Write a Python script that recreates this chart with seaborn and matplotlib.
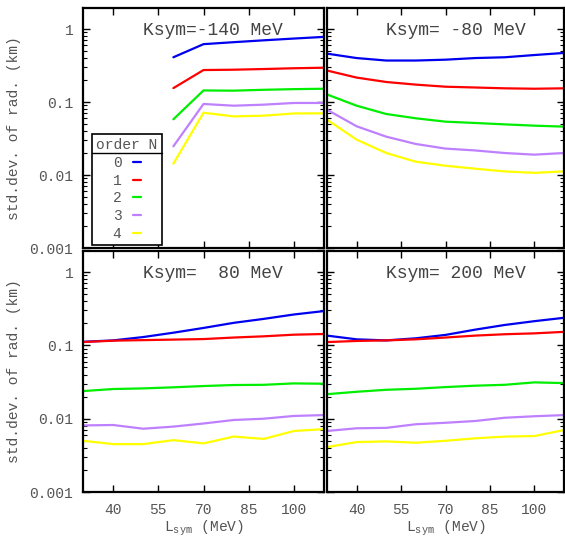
import numpy as np
import pandas as pd
import matplotlib
matplotlib.use("Agg")
import matplotlib.pyplot as plt
from matplotlib.lines import Line2D
import seaborn as sns

# ---- data ----
L_sym = [30, 40, 50, 60, 70, 80, 90, 100, 110]
ksym_labels = ["Ksym=-140 MeV", "Ksym= -80 MeV", "Ksym=  80 MeV", "Ksym= 200 MeV"]
orders = ["0", "1", "2", "3", "4"]
nan = np.nan

# Ksym = -140 MeV (no values below L=60)
k140_o0 = [nan, nan, nan, 0.41, 0.62, 0.66, 0.70, 0.74, 0.78]
k140_o1 = [nan, nan, nan, 0.155, 0.274, 0.277, 0.283, 0.290, 0.295]
k140_o2 = [nan, nan, nan, 0.058, 0.144, 0.143, 0.147, 0.150, 0.152]
k140_o3 = [nan, nan, nan, 0.0247, 0.094, 0.089, 0.092, 0.097, 0.097]
k140_o4 = [nan, nan, nan, 0.0143, 0.0713, 0.0635, 0.065, 0.0697, 0.070]

# Ksym = -80 MeV
k80m_o0 = [0.46, 0.40, 0.37, 0.37, 0.38, 0.40, 0.41, 0.44, 0.47]
k80m_o1 = [0.27, 0.216, 0.188, 0.173, 0.162, 0.158, 0.154, 0.152, 0.154]
k80m_o2 = [0.127, 0.089, 0.0685, 0.0598, 0.0538, 0.0516, 0.0494, 0.0474, 0.046]
k80m_o3 = [0.0785, 0.0465, 0.0335, 0.0266, 0.023, 0.0217, 0.020, 0.019, 0.020]
k80m_o4 = [0.0573, 0.0305, 0.020, 0.0152, 0.0134, 0.0122, 0.0112, 0.0107, 0.0112]

# Ksym = 80 MeV
k80_o0 = [0.112, 0.117, 0.130, 0.149, 0.173, 0.203, 0.230, 0.264, 0.294]
k80_o1 = [0.111, 0.116, 0.118, 0.120, 0.122, 0.128, 0.133, 0.140, 0.143]
k80_o2 = [0.0238, 0.0254, 0.0259, 0.0268, 0.0279, 0.0288, 0.029, 0.0303, 0.030]
k80_o3 = [0.0081, 0.0082, 0.0073, 0.0078, 0.0086, 0.0096, 0.0100, 0.0109, 0.0112]
k80_o4 = [0.0050, 0.0045, 0.0045, 0.0051, 0.0046, 0.0057, 0.0053, 0.0068, 0.0072]

# Ksym = 200 MeV
k200_o0 = [0.136, 0.121, 0.117, 0.125, 0.139, 0.164, 0.190, 0.214, 0.238]
k200_o1 = [0.111, 0.115, 0.117, 0.121, 0.128, 0.136, 0.142, 0.146, 0.153]
k200_o2 = [0.0216, 0.0233, 0.0248, 0.0256, 0.027, 0.0282, 0.029, 0.0313, 0.0306]
k200_o3 = [0.0068, 0.0074, 0.0075, 0.0084, 0.0088, 0.0093, 0.0103, 0.0108, 0.0112]
k200_o4 = [0.0041, 0.0048, 0.0049, 0.0047, 0.0050, 0.0054, 0.0057, 0.0058, 0.0070]

x_ticks = [40, 55, 70, 85, 100]
y_ticks = [0.001, 0.01, 0.1, 1]
y_ticklabels = ["0.001", "0.01", "0.1", "1"]

panels = [
    [k140_o0, k140_o1, k140_o2, k140_o3, k140_o4],
    [k80m_o0, k80m_o1, k80m_o2, k80m_o3, k80m_o4],
    [k80_o0, k80_o1, k80_o2, k80_o3, k80_o4],
    [k200_o0, k200_o1, k200_o2, k200_o3, k200_o4],
]

rows = []
for p, series in enumerate(panels):
    for o, vals in zip(orders, series):
        for x, v in zip(L_sym, vals):
            rows.append({"panel": p, "L": x, "sd": v, "order": o})
df = pd.DataFrame(rows).dropna()

palette = {"0": "#0000f0", "1": "#ff0000", "2": "#00ee00", "3": "#bf80ff", "4": "#ffff00"}

sns.set_style("ticks")
plt.rcParams["font.family"] = ["Liberation Mono", "DejaVu Sans Mono"]
plt.rcParams["mathtext.fontset"] = "custom"
plt.rcParams["mathtext.rm"] = "Liberation Mono"
plt.rcParams["mathtext.it"] = "Liberation Mono"

tc = "#555555"
W, H = 565, 539
fig = plt.figure(figsize=(W / 100, H / 100), dpi=100)

def rect(x0, y0, x1, y1):
    return [x0 / W, 1 - y1 / H, (x1 - x0) / W, (y1 - y0) / H]

rects = [rect(83, 8, 324, 248), rect(327, 8, 564, 248),
         rect(83, 251, 324, 492), rect(327, 251, 564, 492)]

axes = []
for p in range(4):
    ax = fig.add_axes(rects[p])
    axes.append(ax)
    sub = df[df.panel == p]
    sns.lineplot(data=sub, x="L", y="sd", hue="order", hue_order=orders,
                 palette=palette, linewidth=1.6, ax=ax, legend=(p == 0),
                 estimator=None)
    ax.set_yscale("log")
    ax.set_xlim(30, 110)
    ax.set_ylim(0.001, 1.94)
    ax.set_xticks(x_ticks)
    ax.set_yticks(y_ticks)
    ax.set_yticklabels(y_ticklabels)
    ax.tick_params(which="both", direction="in", top=True, right=True,
                   colors="black", labelcolor=tc, labelsize=10.5)
    ax.tick_params(which="major", length=5, width=1)
    ax.tick_params(which="minor", length=3, width=0.8)
    ax.tick_params(axis="y", pad=7)
    ax.tick_params(axis="x", pad=8)
    ax.xaxis.set_minor_locator(matplotlib.ticker.NullLocator())
    for s in ax.spines.values():
        s.set_linewidth(1.6)
        s.set_color("black")
    ax.set_xlabel("")
    ax.set_ylabel("")
    if p in (1, 3):
        ax.tick_params(labelleft=False)
    else:
        ax.set_ylabel("std.dev. of rad. (km)", color=tc, fontsize=10.5, labelpad=6)
    if p in (0, 1):
        ax.tick_params(labelbottom=False)
    else:
        ax.set_xlabel(r"L$_{\mathrm{sym}}$ (MeV)", color=tc, fontsize=10.5, labelpad=1)
    ax.text(0.25, 0.905, ksym_labels[p], transform=ax.transAxes, ha="left",
            va="center", fontsize=13, color="#444444")

ax0 = axes[0]
leg = ax0.legend(title="order N", loc="lower left", bbox_to_anchor=(0.037, 0.0125),
                 borderaxespad=0, markerfirst=False, handlelength=0.55,
                 handletextpad=0.8, labelspacing=0.25, fontsize=10.5,
                 title_fontsize=10.5, frameon=True, fancybox=False,
                 borderpad=0.3)
fr = leg.get_frame()
fr.set_edgecolor("black")
fr.set_linewidth(1.2)
fr.set_alpha(1)
leg.get_title().set_color(tc)
for t in leg.get_texts():
    t.set_color(tc)
for h in leg.get_lines():
    h.set_linewidth(1.6)

fig.canvas.draw()
lb = leg.get_window_extent()
tb = leg.get_title().get_window_extent()
inv = fig.transFigure.inverted()
ysep = tb.y0 - 1
(x0f, yf) = inv.transform((lb.x0, ysep))
(x1f, _) = inv.transform((lb.x1, ysep))
fig.add_artist(Line2D([x0f, x1f], [yf, yf], transform=fig.transFigure,
                      color="black", linewidth=1.0))

fig.savefig("out.png", dpi=100)
